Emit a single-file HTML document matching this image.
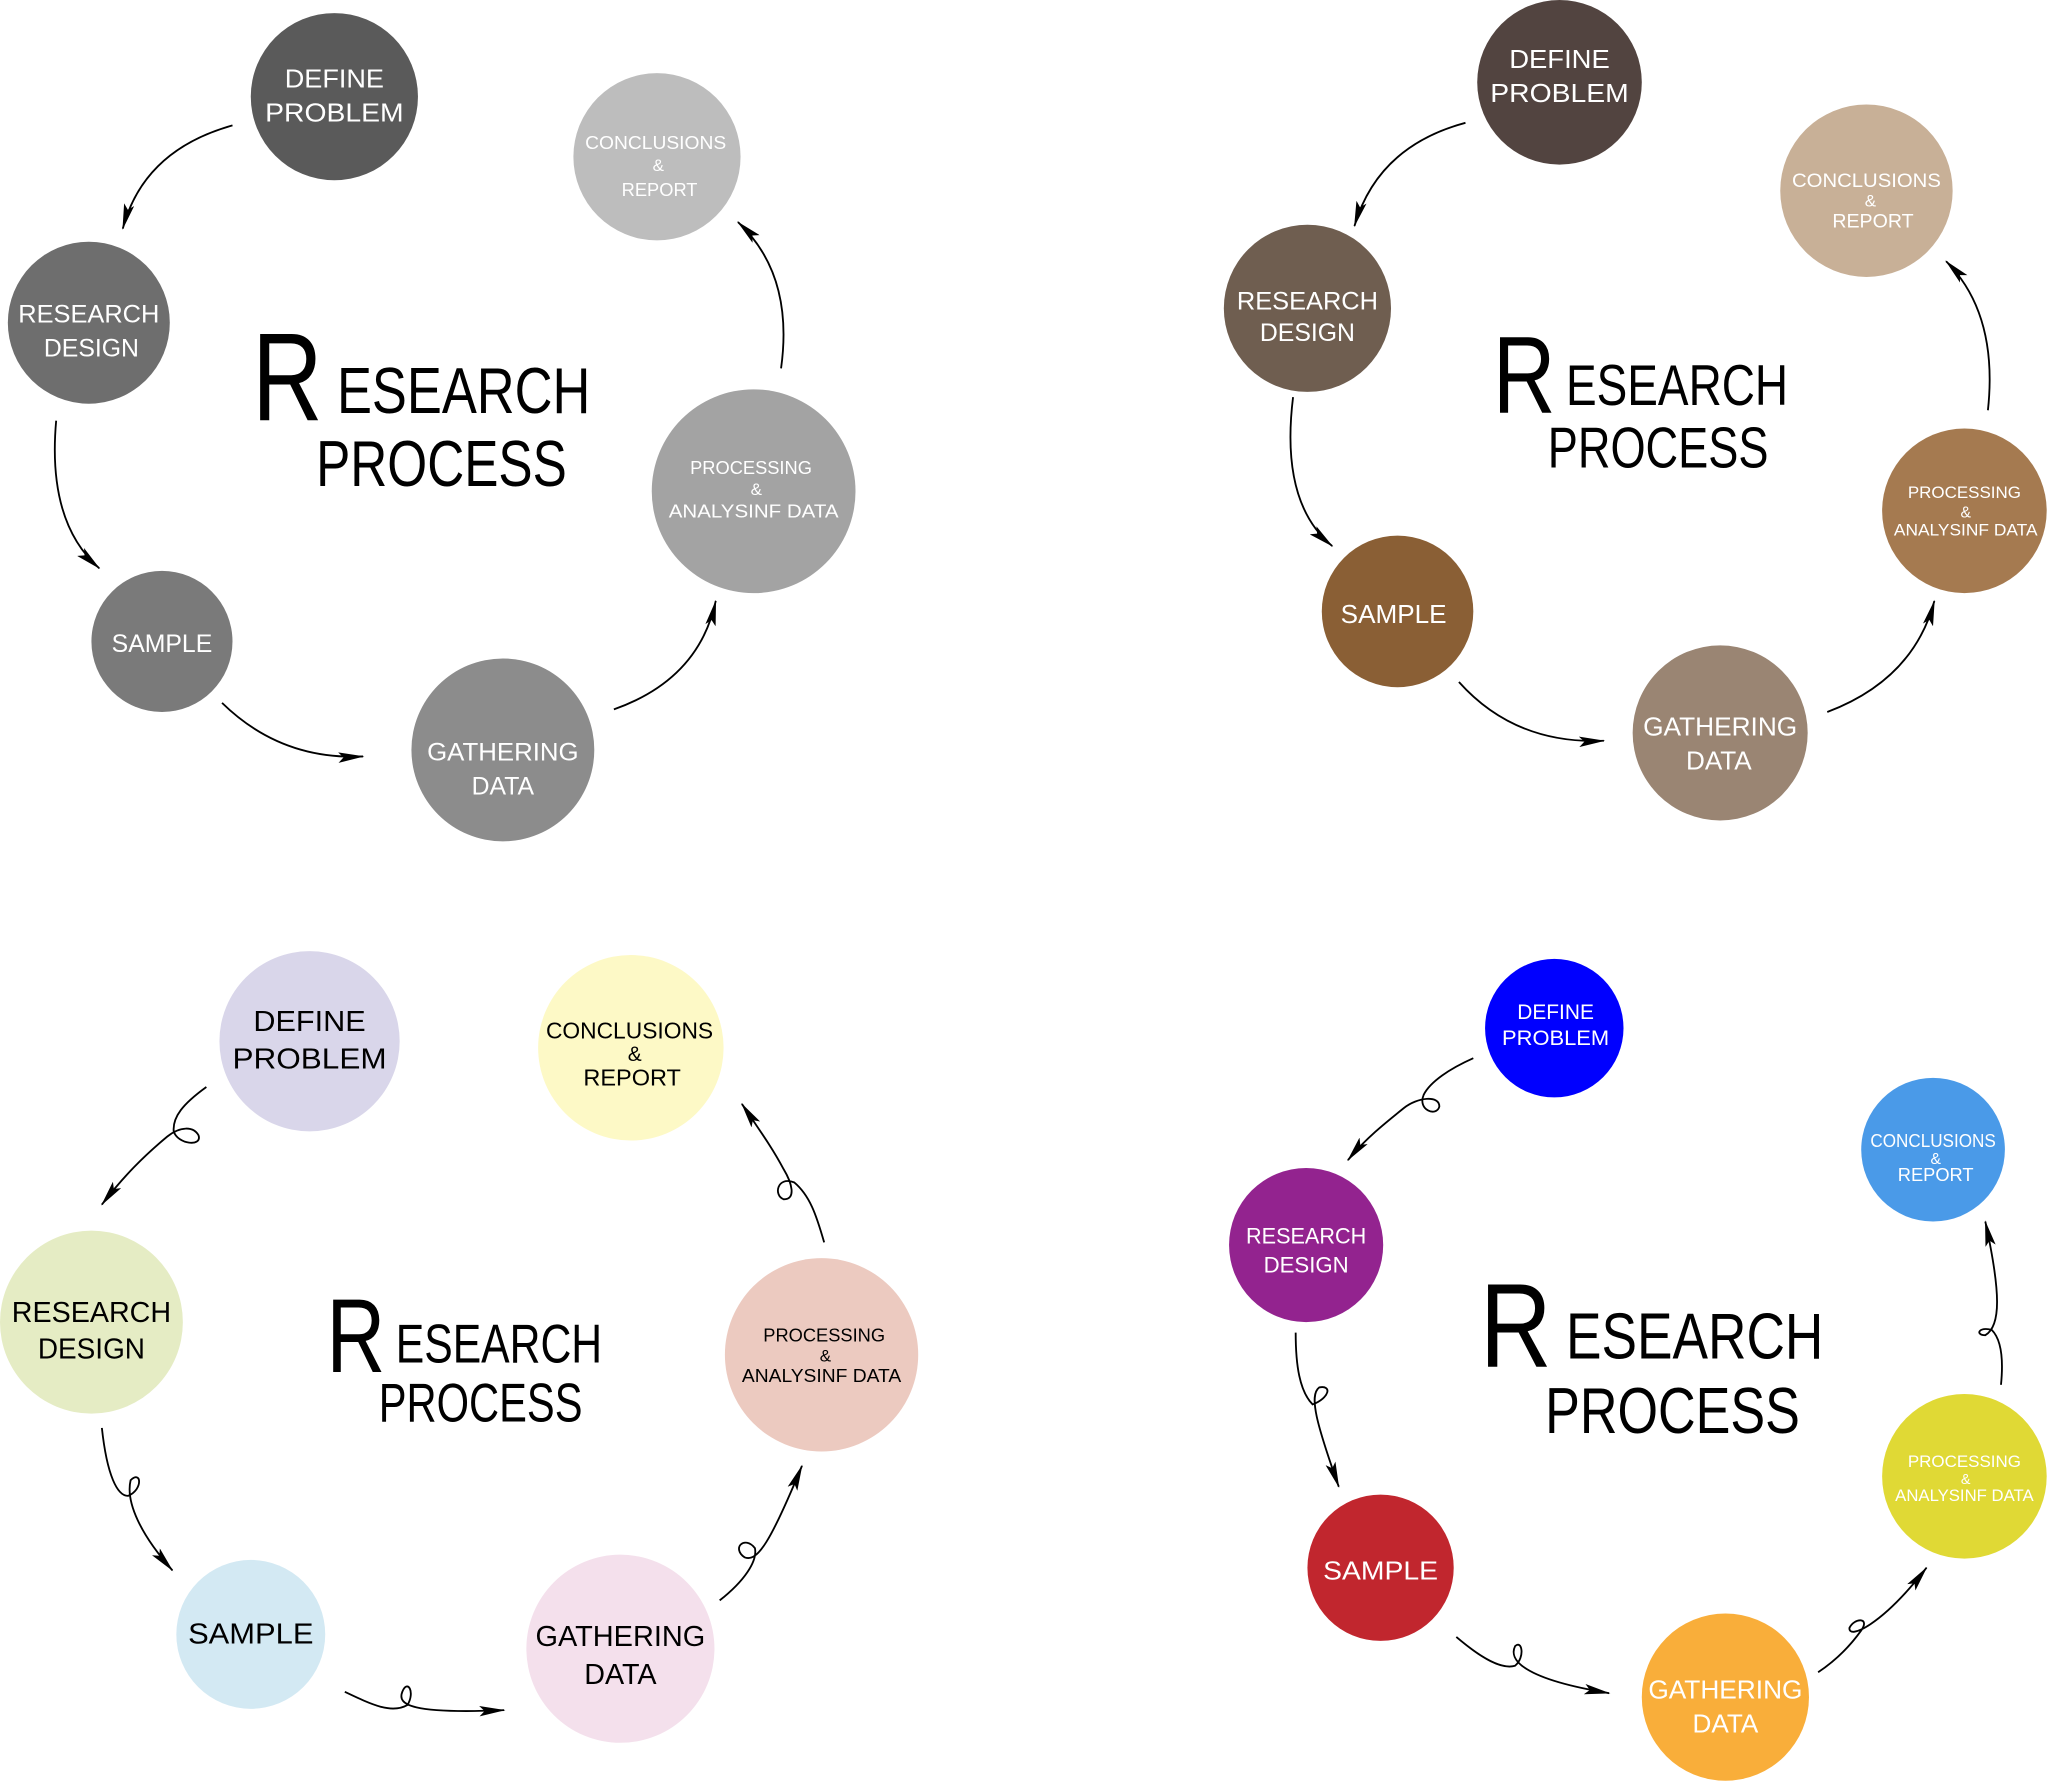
<!DOCTYPE html>
<html><head><meta charset="utf-8"><style>
html,body{margin:0;padding:0;background:#fff}
svg{display:block}
.c{font-family:"Liberation Sans",sans-serif;text-anchor:middle}
.t{font-family:"Liberation Sans",sans-serif;fill:#000}
path.a{fill:none;stroke:#000;stroke-width:1.4}
</style></head><body>
<svg width="2048" height="1782" viewBox="0 0 1568 1364" preserveAspectRatio="none" xmlns="http://www.w3.org/2000/svg">
<defs>
<marker id="m" viewBox="0 0 20 8" refX="19" refY="4" markerWidth="20" markerHeight="8" markerUnits="userSpaceOnUse" orient="auto">
<path d="M0,0 L20,4 L0,8 L4,4 Z" fill="#000"/></marker>
</defs>

<!-- Q1 -->
<g class="c" fill="#fff">
<circle cx="256" cy="74" r="64" fill="#5a5a5a"/>
<text x="256" y="67" font-size="20" textLength="76" lengthAdjust="spacingAndGlyphs">DEFINE</text><text x="256" y="93" font-size="20" textLength="106" lengthAdjust="spacingAndGlyphs">PROBLEM</text>
<circle cx="68" cy="247" r="62" fill="#6e6e6e"/>
<text x="68" y="247" font-size="19" textLength="108" lengthAdjust="spacingAndGlyphs">RESEARCH</text><text x="70" y="273" font-size="19">DESIGN</text>
<circle cx="124" cy="491" r="54" fill="#7a7a7a"/>
<text x="124" y="499" font-size="19">SAMPLE</text>
<circle cx="385" cy="574" r="70" fill="#8c8c8c"/>
<text x="385" y="582" font-size="19" textLength="116" lengthAdjust="spacingAndGlyphs">GATHERING</text><text x="385" y="608" font-size="19">DATA</text>
<circle cx="577" cy="376" r="78" fill="#a3a3a3"/>
<text x="575" y="363" font-size="14">PROCESSING</text><text x="579" y="379" font-size="13">&amp;</text><text x="577" y="396" font-size="14" textLength="130" lengthAdjust="spacingAndGlyphs">ANALYSINF DATA</text>
<circle cx="503" cy="120" r="64" fill="#bdbdbd"/>
<text x="502" y="114" font-size="14" textLength="108" lengthAdjust="spacingAndGlyphs">CONCLUSIONS</text><text x="504" y="131" font-size="13">&amp;</text><text x="505" y="150" font-size="14">REPORT</text>
</g>
<text class="t" x="193" y="322" font-size="96" textLength="54" lengthAdjust="spacingAndGlyphs">R</text>
<text class="t" x="258" y="316" font-size="50" textLength="194" lengthAdjust="spacingAndGlyphs">ESEARCH</text>
<text class="t" x="242" y="372" font-size="50" textLength="192" lengthAdjust="spacingAndGlyphs">PROCESS</text>
<path class="a" marker-end="url(#m)" d="M178,96 Q110,115 94,175"/>
<path class="a" marker-end="url(#m)" d="M43,322 Q36,400 76,435"/>
<path class="a" marker-end="url(#m)" d="M170,538 Q215,582 278,579"/>
<path class="a" marker-end="url(#m)" d="M470,543 Q535,520 548,460"/>
<path class="a" marker-end="url(#m)" d="M598,282 Q608,210 565,170"/>

<!-- Q2 -->
<g class="c" fill="#fff">
<circle cx="1194" cy="63" r="63" fill="#524440"/>
<text x="1194" y="52" font-size="20" textLength="77" lengthAdjust="spacingAndGlyphs">DEFINE</text><text x="1194" y="78" font-size="20" textLength="106" lengthAdjust="spacingAndGlyphs">PROBLEM</text>
<circle cx="1001" cy="236" r="64" fill="#6f5e50"/>
<text x="1001" y="237" font-size="19" textLength="108" lengthAdjust="spacingAndGlyphs">RESEARCH</text><text x="1001" y="261" font-size="19">DESIGN</text>
<circle cx="1070" cy="468" r="58" fill="#8a5f35"/>
<text x="1067" y="477" font-size="20">SAMPLE</text>
<circle cx="1317" cy="561" r="67" fill="#9a8573"/>
<text x="1317" y="563" font-size="20" textLength="118" lengthAdjust="spacingAndGlyphs">GATHERING</text><text x="1316" y="589" font-size="20">DATA</text>
<circle cx="1504" cy="391" r="63" fill="#a57a50"/>
<text x="1504" y="381" font-size="13">PROCESSING</text><text x="1505" y="396" font-size="12">&amp;</text><text x="1505" y="410" font-size="13" textLength="110" lengthAdjust="spacingAndGlyphs">ANALYSINF DATA</text>
<circle cx="1429" cy="146" r="66" fill="#c8b097"/>
<text x="1429" y="143" font-size="15" textLength="114" lengthAdjust="spacingAndGlyphs">CONCLUSIONS</text><text x="1432" y="158" font-size="13">&amp;</text><text x="1434" y="174" font-size="15">REPORT</text>
</g>
<text class="t" x="1143" y="316" font-size="84" textLength="48" lengthAdjust="spacingAndGlyphs">R</text>
<text class="t" x="1199" y="310" font-size="44" textLength="170" lengthAdjust="spacingAndGlyphs">ESEARCH</text>
<text class="t" x="1185" y="358" font-size="44" textLength="169" lengthAdjust="spacingAndGlyphs">PROCESS</text>
<path class="a" marker-end="url(#m)" d="M1122,94 Q1055,112 1037,173"/>
<path class="a" marker-end="url(#m)" d="M990,304 Q980,385 1020,418"/>
<path class="a" marker-end="url(#m)" d="M1117,522 Q1160,570 1228,567"/>
<path class="a" marker-end="url(#m)" d="M1399,545 Q1465,520 1481,460"/>
<path class="a" marker-end="url(#m)" d="M1522,314 Q1530,240 1490,200"/>

<!-- Q3 -->
<g class="c" fill="#000">
<circle cx="237" cy="797" r="69" fill="#d9d6ea"/>
<text x="237" y="789" font-size="22" textLength="86" lengthAdjust="spacingAndGlyphs">DEFINE</text><text x="237" y="818" font-size="22" textLength="118" lengthAdjust="spacingAndGlyphs">PROBLEM</text>
<circle cx="70" cy="1012" r="70" fill="#e5ecc4"/>
<text x="70" y="1012" font-size="22" textLength="122" lengthAdjust="spacingAndGlyphs">RESEARCH</text><text x="70" y="1040" font-size="22" textLength="82" lengthAdjust="spacingAndGlyphs">DESIGN</text>
<circle cx="192" cy="1251" r="57" fill="#d3e9f3"/>
<text x="192" y="1258" font-size="22" textLength="96" lengthAdjust="spacingAndGlyphs">SAMPLE</text>
<circle cx="475" cy="1262" r="72" fill="#f4e0ec"/>
<text x="475" y="1260" font-size="22" textLength="130" lengthAdjust="spacingAndGlyphs">GATHERING</text><text x="475" y="1289" font-size="22">DATA</text>
<circle cx="629" cy="1037" r="74" fill="#eccac0"/>
<text x="631" y="1027" font-size="14">PROCESSING</text><text x="632" y="1042" font-size="13">&amp;</text><text x="629" y="1058" font-size="14" textLength="122" lengthAdjust="spacingAndGlyphs">ANALYSINF DATA</text>
<circle cx="483" cy="802" r="71" fill="#fdf9c6"/>
<text x="482" y="795" font-size="18" textLength="128" lengthAdjust="spacingAndGlyphs">CONCLUSIONS</text><text x="486" y="812" font-size="16">&amp;</text><text x="484" y="831" font-size="18">REPORT</text>
</g>
<text class="t" x="250" y="1050" font-size="80" textLength="45" lengthAdjust="spacingAndGlyphs">R</text>
<text class="t" x="303" y="1043" font-size="42" textLength="158" lengthAdjust="spacingAndGlyphs">ESEARCH</text>
<text class="t" x="290" y="1088" font-size="42" textLength="156" lengthAdjust="spacingAndGlyphs">PROCESS</text>
<path class="a" marker-end="url(#m)" d="M158,832 C140,845 132,855 133,866 C136,876 155,878 152,869 C148,862 138,862 128,870 C110,885 95,900 78,922"/>
<path class="a" marker-end="url(#m)" d="M78,1093 C82,1130 90,1145 98,1145 C110,1140 108,1125 100,1133 C96,1150 108,1175 132,1202"/>
<path class="a" marker-end="url(#m)" d="M264,1295 C285,1305 300,1312 312,1305 C318,1295 312,1285 308,1295 C304,1305 315,1312 386,1309"/>
<path class="a" marker-end="url(#m)" d="M551,1225 C570,1210 580,1195 578,1185 C570,1175 560,1185 570,1192 C580,1196 590,1180 614,1122"/>
<path class="a" marker-end="url(#m)" d="M631,951 C625,930 620,915 608,905 C595,900 592,915 600,918 C610,918 606,905 600,895 C592,880 585,870 568,845"/>

<!-- Q4 -->
<g class="c" fill="#fff">
<circle cx="1190" cy="787" r="53" fill="#0000ff"/>
<text x="1191" y="780" font-size="16">DEFINE</text><text x="1191" y="800" font-size="16" textLength="82" lengthAdjust="spacingAndGlyphs">PROBLEM</text>
<circle cx="1000" cy="953" r="59" fill="#93238f"/>
<text x="1000" y="952" font-size="17" textLength="92" lengthAdjust="spacingAndGlyphs">RESEARCH</text><text x="1000" y="974" font-size="17">DESIGN</text>
<circle cx="1057" cy="1200" r="56" fill="#c1262e"/>
<text x="1057" y="1209" font-size="20" textLength="88" lengthAdjust="spacingAndGlyphs">SAMPLE</text>
<circle cx="1321" cy="1299" r="64" fill="#f9ae3a"/>
<text x="1321" y="1300" font-size="20" textLength="118" lengthAdjust="spacingAndGlyphs">GATHERING</text><text x="1321" y="1326" font-size="20">DATA</text>
<circle cx="1504" cy="1130" r="63" fill="#e0d935"/>
<text x="1504" y="1123" font-size="13">PROCESSING</text><text x="1505" y="1136" font-size="11">&amp;</text><text x="1504" y="1149" font-size="13" textLength="106" lengthAdjust="spacingAndGlyphs">ANALYSINF DATA</text>
<circle cx="1480" cy="880" r="55" fill="#4a9ae8"/>
<text x="1480" y="878" font-size="14" textLength="96" lengthAdjust="spacingAndGlyphs">CONCLUSIONS</text><text x="1482" y="891" font-size="12">&amp;</text><text x="1482" y="904" font-size="14">REPORT</text>
</g>
<text class="t" x="1133" y="1046" font-size="92" textLength="55" lengthAdjust="spacingAndGlyphs">R</text>
<text class="t" x="1199" y="1040" font-size="50" textLength="197" lengthAdjust="spacingAndGlyphs">ESEARCH</text>
<text class="t" x="1183" y="1097" font-size="50" textLength="195" lengthAdjust="spacingAndGlyphs">PROCESS</text>
<path class="a" marker-end="url(#m)" d="M1128,810 C1110,818 1095,828 1090,838 C1085,850 1100,855 1102,847 C1102,838 1085,840 1075,848 C1060,860 1045,872 1032,888"/>
<path class="a" marker-end="url(#m)" d="M992,1020 C992,1045 995,1065 1005,1075 C1018,1070 1020,1060 1010,1062 C1002,1068 1008,1090 1025,1138"/>
<path class="a" marker-end="url(#m)" d="M1115,1253 C1135,1270 1150,1278 1160,1275 C1168,1268 1165,1255 1160,1260 C1155,1270 1165,1285 1232,1296"/>
<path class="a" marker-end="url(#m)" d="M1392,1280 C1410,1268 1420,1255 1425,1248 C1432,1238 1420,1238 1416,1246 C1415,1255 1440,1245 1475,1200"/>
<path class="a" marker-end="url(#m)" d="M1532,1060 C1534,1040 1532,1025 1525,1018 C1515,1015 1512,1022 1520,1022 C1532,1015 1532,990 1520,935"/>
</svg>
</body></html>
